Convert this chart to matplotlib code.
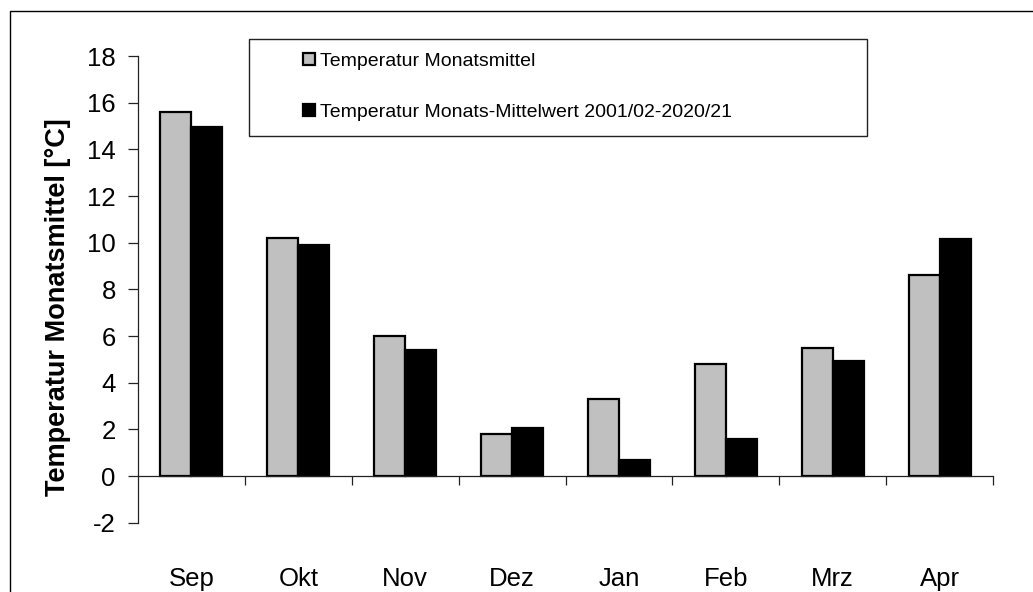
import numpy as np
import matplotlib
matplotlib.use("Agg")
import matplotlib.pyplot as plt
from matplotlib.patches import Rectangle
from matplotlib.transforms import blended_transform_factory

plt.rcParams['font.family'] = ['Liberation Sans', 'DejaVu Sans']
plt.rcParams['axes.unicode_minus'] = False

# Daten
monate = ['Sep', 'Okt', 'Nov', 'Dez', 'Jan', 'Feb', 'Mrz', 'Apr']
temp_monat = [15.6, 10.2, 6.0, 1.8, 3.3, 4.8, 5.5, 8.6]
temp_mittel = [14.95, 9.9, 5.4, 2.07, 0.7, 1.6, 4.95, 10.15]
label_monat = 'Temperatur Monatsmittel'
label_mittel = 'Temperatur Monats-Mittelwert 2001/02-2020/21'
yticks = [-2, 0, 2, 4, 6, 8, 10, 12, 14, 16, 18]

W, H = 1033, 592
fig = plt.figure(figsize=(W / 100, H / 100), dpi=100)
ax = fig.add_axes([138 / W, 1 - 522.7 / H, (993 - 138) / W, (522.7 - 56) / H])

x = np.arange(len(monate))
bw = 0.29
b1 = ax.bar(x - bw / 2, temp_monat, bw, color='#c0c0c0', edgecolor='black', linewidth=1.6, label=label_monat)
b2 = ax.bar(x + bw / 2, temp_mittel, bw, color='black', edgecolor='black', linewidth=1.6, label=label_mittel)

ax.set_xlim(-0.5, len(monate) - 0.5)
ax.set_ylim(-2, 18)
ax.set_yticks(yticks)
ax.tick_params(axis='y', direction='out', length=7, width=0.9, labelsize=18.5, pad=9, colors='#222222', labelcolor='black')
ax.set_xticks(x + 0.5)
ax.set_xticklabels([])
ax.tick_params(axis='x', direction='out', length=6.5, width=0.9, colors='#222222')

ax.spines['top'].set_visible(False)
ax.spines['right'].set_visible(False)
ax.spines['bottom'].set_position(('data', 0))
for s in ['left', 'bottom']:
    ax.spines[s].set_linewidth(0.9)
    ax.spines[s].set_color('#222222')

# Monatsnamen unten
tr = blended_transform_factory(ax.transData, fig.transFigure)
for i, m in enumerate(monate):
    ax.text(i, 1 - 579 / H, m, transform=tr, ha='center', va='center', fontsize=18.5)

fig.text(58 / W, 1 - 307 / H, 'Temperatur Monatsmittel [°C]', rotation=90,
         ha='center', va='center', fontsize=19.5, fontweight='bold')

# Legendenrahmen
fig.add_artist(Rectangle((249 / W, 1 - 136 / H), (867 - 249) / W, 97 / H, fill=False,
                         edgecolor='#222222', linewidth=1.0, transform=fig.transFigure))
fig.legend(handles=[b1, b2], loc='upper left', bbox_to_anchor=(303 / W, 1 - 53 / H),
           frameon=False, fontsize=14, handlelength=0.6, handleheight=0.6,
           handletextpad=0.3, labelspacing=1.75, borderpad=0, borderaxespad=0)

# Rahmen um das Diagramm
fig.add_artist(Rectangle((10 / W, -0.2), 2, 1 - 11 / H + 0.2, fill=False,
                         edgecolor='black', linewidth=1.0, transform=fig.transFigure))

fig.savefig('out.png', dpi=100)
